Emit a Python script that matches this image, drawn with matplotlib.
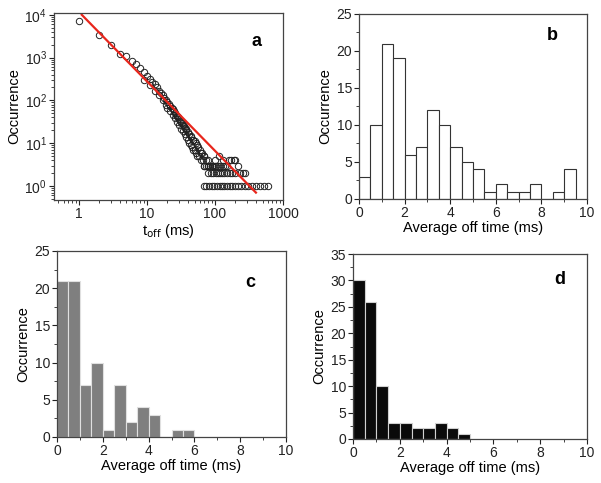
import numpy as np
import matplotlib.pyplot as plt

plt.rcParams['font.family'] = ['Liberation Sans', 'DejaVu Sans']
plt.rcParams['font.size'] = 10

# panel a: off-time distribution (log-log)
toff_x = [1, 2, 3, 4, 5, 6, 7, 8, 9, 10, 11, 12, 13, 14, 15, 16, 17, 18, 19, 20,
          21, 22, 23, 24, 25, 26, 27, 28, 29, 30, 31, 32, 33, 34, 35, 36, 37, 38, 40, 42,
          44, 45, 47, 48, 50, 52, 55, 57, 60, 62, 65, 68, 70, 75, 80]
toff_y = [7000, 3300, 2000, 1200, 1100, 850, 700, 560, 470, 380, 320, 270, 240, 200, 170, 150, 130, 115, 100, 92,
          82, 75, 68, 62, 56, 50, 46, 42, 40, 36, 33, 31, 29, 27, 25, 23, 22, 20, 18, 16,
          15, 14, 12, 12, 11, 10, 9, 8, 7, 6, 6, 5, 5, 4, 4]
scat_x = [9, 11, 13, 15, 17, 19, 20, 22, 24, 26, 28, 30, 32, 34, 36, 38, 40, 42, 44, 46,
          48, 50, 52, 55, 58, 62, 66, 70, 75, 80, 85, 90]
scat_y = [300, 230, 170, 130, 100, 80, 65, 55, 45, 38, 32, 27, 22, 19, 16, 14, 12, 10, 9, 8,
          7, 7, 6, 5, 5, 4, 4, 3, 3, 3, 3, 3]
tail_x = [70, 78, 85, 90, 95, 100, 105, 110, 120, 130, 140, 150, 170, 190, 220, 260,
          80, 88, 95, 102, 110, 118, 125, 135, 150, 165, 180, 200, 230, 280,
          100, 115, 130, 160, 200,
          68, 75, 82, 90, 98, 108, 118, 128, 138, 150, 165, 180, 200, 220, 245, 275, 310, 350, 400, 460, 530, 600]
tail_y = [3, 3, 3, 3, 3, 3, 3, 3, 3, 3, 3, 3, 4, 4, 3, 2,
          2, 2, 2, 2, 2, 2, 2, 2, 2, 2, 2, 2, 2, 2,
          4, 5, 4, 4, 4,
          1, 1, 1, 1, 1, 1, 1, 1, 1, 1, 1, 1, 1, 1, 1, 1, 1, 1, 1, 1, 1, 1]
fit_x = [1.1, 400]
fit_y = [1.0e4, 0.7]

# histograms, 0.5 ms bins
bin_w = 0.5
counts_b = [3, 10, 21, 19, 6, 7, 12, 10, 7, 5, 4, 1, 2, 1, 1, 2, 0, 1, 4]
counts_c = [21, 21, 7, 10, 1, 7, 2, 4, 3, 0, 1, 1]
counts_d = [30, 26, 10, 3, 3, 2, 2, 3, 2, 1]

W, H = 601, 483
fig = plt.figure(figsize=(W / 100, H / 100), dpi=100)


def rect(l, t, r, b):
    return [l / W, 1 - b / H, (r - l) / W, (b - t) / H]


spine_c = '#444444'


def style(ax):
    for s in ax.spines.values():
        s.set_color(spine_c)
        s.set_linewidth(0.9)
    ax.tick_params(which='both', direction='out', colors='#222222', top=False, right=False,
                   labelsize=10, pad=1.5)
    ax.tick_params(which='major', length=3.5)
    ax.tick_params(which='minor', length=2)


ax_a = fig.add_axes(rect(54, 13, 283, 200))
mk = dict(ls='none', marker='o', mfc='none', mec='#222222', ms=4.6, mew=0.7)
ax_a.plot(toff_x, toff_y, **mk)
ax_a.plot(scat_x, scat_y, **mk)
ax_a.plot(tail_x, tail_y, **mk)
ax_a.plot(fit_x, fit_y, color='#e8261c', lw=1.6)
ax_a.set_xscale('log')
ax_a.set_yscale('log')
ax_a.set_xlim(0.43, 1000)
ax_a.set_ylim(0.47, 1.1e4)
ax_a.set_xticks([1, 10, 100, 1000])
ax_a.set_xticklabels(['1', '10', '100', '1000'])
ax_a.set_xlabel('t$_{\\mathrm{off}}$ (ms)', fontsize=10.5, labelpad=1)
ax_a.set_ylabel('Occurrence', fontsize=10.5, labelpad=2)
ax_a.text(0.886, 0.845, 'a', transform=ax_a.transAxes, fontsize=13, fontweight='bold',
          ha='center', va='center')
style(ax_a)


def hist(ax, counts, fc, ec, ymax, ystep, letter, lx, ly):
    edges = np.arange(len(counts)) * bin_w
    ax.bar(edges, counts, width=bin_w, align='edge', color=fc, edgecolor=ec, linewidth=0.8)
    ax.set_xlim(0, 10)
    ax.set_ylim(0, ymax)
    ax.set_xticks(np.arange(0, 11, 2))
    ax.set_xticks(np.arange(1, 10, 2), minor=True)
    ax.set_yticks(np.arange(0, ymax + 1, ystep))
    ax.set_yticks(np.arange(ystep / 2, ymax, ystep), minor=True)
    ax.set_xlabel('Average off time (ms)', fontsize=10.5, labelpad=1)
    ax.set_ylabel('Occurrence', fontsize=10.5, labelpad=3)
    ax.text(lx, ly, letter, transform=ax.transAxes, fontsize=13, fontweight='bold',
            ha='center', va='center')
    style(ax)


ax_b = fig.add_axes(rect(359, 14, 587, 199))
hist(ax_b, counts_b, 'white', '#333333', 25, 5, 'b', 0.85, 0.886)

ax_c = fig.add_axes(rect(57, 251, 286, 437))
hist(ax_c, counts_c, '#7f7f7f', '#e0e0e0', 25, 5, 'c', 0.843, 0.833)

ax_d = fig.add_axes(rect(353, 254, 587, 439))
hist(ax_d, counts_d, '#0a0a0a', '#d0d0d0', 35, 5, 'd', 0.885, 0.86)

fig.savefig('out.png', dpi=100)
